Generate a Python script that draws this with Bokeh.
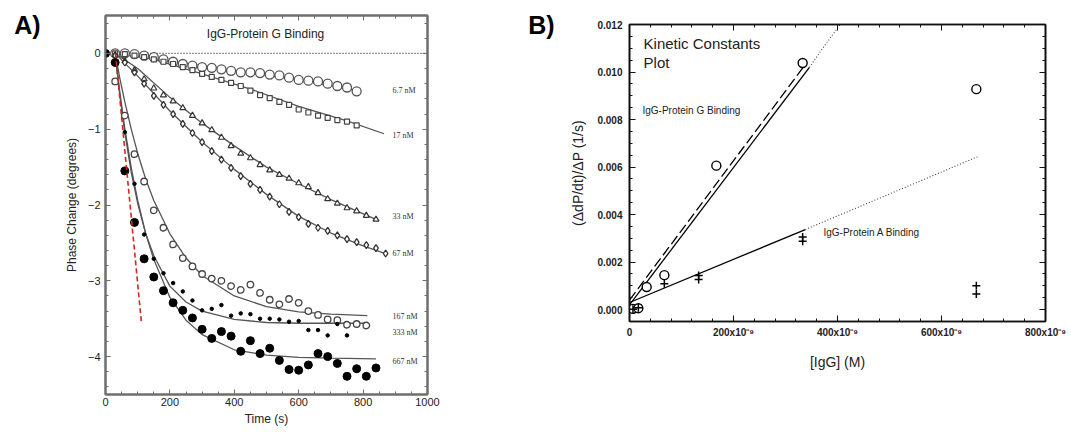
from bokeh.plotting import figure
from bokeh.models import (Range1d, LinearAxis, FixedTicker, CustomJSTickFormatter,
                          NumeralTickFormatter, CustomLabelingPolicy)
from bokeh.layouts import row
from bokeh.core.properties import value
from bokeh.embed import file_html
from bokeh.resources import INLINE

# ---------------- Panel A data (Time s, Phase change deg) ----------------
t_all = [0, 30, 60, 90, 120, 150, 180, 210, 240, 270, 300, 330, 360, 390, 420, 450,
         480, 510, 540, 570, 600, 630, 660, 690, 720, 750, 780, 810, 840, 870]

t_6p7 = t_all[1:27]
v_6p7 = [0, 0, -0.01, -0.03, -0.05, -0.08, -0.11, -0.14, -0.16, -0.18, -0.19, -0.21, -0.23,
         -0.25, -0.25, -0.26, -0.28, -0.29, -0.32, -0.35, -0.36, -0.37, -0.40, -0.43, -0.45, -0.50]
t_17 = t_all[1:27]
v_17 = [0, -0.01, -0.03, -0.05, -0.08, -0.11, -0.14, -0.18, -0.22, -0.27, -0.31, -0.35, -0.39,
        -0.43, -0.49, -0.55, -0.59, -0.64, -0.68, -0.74, -0.78, -0.82, -0.85, -0.88, -0.90, -0.95]
t_33 = t_all[1:29]
v_33 = [-0.02, -0.10, -0.22, -0.34, -0.46, -0.55, -0.63, -0.72, -0.82, -0.92, -1.01, -1.11,
        -1.22, -1.32, -1.38, -1.47, -1.54, -1.60, -1.65, -1.71, -1.76, -1.84, -1.92, -1.98,
        -2.04, -2.08, -2.14, -2.19]
t_67 = t_all[1:30]
v_67 = [-0.03, -0.12, -0.25, -0.40, -0.56, -0.68, -0.80, -0.93, -1.05, -1.17, -1.29, -1.40,
        -1.51, -1.62, -1.72, -1.80, -1.89, -1.99, -2.09, -2.16, -2.25, -2.30, -2.34, -2.40,
        -2.45, -2.49, -2.53, -2.57, -2.64]
t_167 = t_all[1:28]
v_167 = [-0.37, -0.82, -1.33, -1.69, -2.07, -2.30, -2.52, -2.70, -2.81, -2.91, -2.97, -3.00,
         -3.07, -3.12, -3.05, -3.16, -3.25, -3.31, -3.24, -3.29, -3.40, -3.45, -3.51, -3.52,
         -3.58, -3.57, -3.59]
t_333 = t_all[1:26]
v_333 = [-0.10, -1.04, -1.72, -2.39, -2.71, -2.90, -3.03, -3.14, -3.26, -3.39, -3.37, -3.32,
         -3.46, -3.43, -3.44, -3.50, -3.50, -3.51, -3.54, -3.53, -3.65, -3.65, -3.72, -3.57, -3.72]
t_667 = t_all[0:29]
v_667 = [0, -0.12, -1.55, -2.23, -2.71, -2.95, -3.13, -3.29, -3.39, -3.49, -3.64, -3.76, -3.67,
         -3.73, -3.93, -3.79, -3.96, -3.89, -4.05, -4.17, -4.18, -4.11, -3.96, -4.00, -4.09,
         -4.26, -4.16, -4.26, -4.15]

# fitted curves
ft_6p7 = [30, 200, 400, 600, 780]
fv_6p7 = [0, -0.10, -0.23, -0.35, -0.49]
ft_17 = [30, 150, 300, 450, 600, 750, 865]
fv_17 = [0, -0.08, -0.27, -0.47, -0.70, -0.89, -1.06]
ft_33 = [30, 100, 200, 300, 400, 500, 600, 700, 845]
fv_33 = [0, -0.20, -0.58, -0.92, -1.22, -1.50, -1.72, -1.93, -2.20]
ft_67 = [30, 100, 200, 300, 400, 500, 600, 700, 800, 870]
fv_67 = [0, -0.30, -0.76, -1.17, -1.53, -1.86, -2.15, -2.37, -2.54, -2.64]
ft_167 = [30, 45, 60, 80, 100, 125, 150, 200, 250, 300, 400, 500, 600, 700, 813]
fv_167 = [0, -0.34, -0.64, -1.00, -1.32, -1.66, -1.94, -2.38, -2.70, -2.93, -3.20, -3.34,
          -3.41, -3.44, -3.46]
ft_333 = [30, 45, 60, 80, 100, 125, 150, 200, 250, 300, 400, 500, 600, 813]
fv_333 = [0, -0.57, -1.05, -1.57, -1.98, -2.38, -2.67, -3.07, -3.28, -3.40, -3.51, -3.55,
          -3.56, -3.56]
ft_667 = [30, 45, 60, 80, 100, 125, 150, 200, 250, 300, 400, 500, 600, 700, 840]
fv_667 = [0, -0.53, -0.99, -1.51, -1.94, -2.38, -2.72, -3.22, -3.52, -3.71, -3.91, -3.98,
          -4.01, -4.02, -4.03]

red_t = [31, 112]
red_v = [0, -3.57]
zero_t = [0, 1000]
zero_v = [0, 0]

conc_labels = ["6.7 nM", "17  nM", "33  nM", "67 nM", "167 nM", "333 nM", "667 nM"]
conc_label_y = [-0.49, -1.08, -2.15, -2.64, -3.47, -3.68, -4.06]

# ---------------- Panel B data ([IgG] M, rate 1/s) ----------------
g_conc = [6.7e-9, 17e-9, 33e-9, 67e-9, 167e-9, 333e-9, 667e-9]
g_rate = [0.00003, 0.00006, 0.00095, 0.00145, 0.00606, 0.01038, 0.00928]
a_conc = [6.7e-9, 17e-9, 67e-9, 133e-9, 133e-9, 333e-9, 333e-9, 667e-9, 667e-9]
a_rate = [0.00002, 0.00008, 0.00109, 0.00144, 0.00127, 0.00306, 0.00288, 0.00100, 0.00066]

g_fit_x = [0, 346e-9]
g_fit_y = [0.0002, 0.0102]
g_dash_x = [0, 341e-9]
g_dash_y = [0.0004, 0.0104]
g_dot_x = [346e-9, 375e-9, 405e-9]
g_dot_y = [0.0102, 0.0111, 0.0120]
a_fit_x = [0, 338e-9]
a_fit_y = [0.0003, 0.00337]
a_dot_x = [338e-9, 669e-9]
a_dot_y = [0.00337, 0.00643]

SANS = "Liberation Sans"
SERIF = "Liberation Serif"
H = 428

NO_LABELS = CustomLabelingPolicy(code="""
const all = [];
for (const i of indices) { all.push(i); }
for (const i of all) { indices.unset(i); }
return indices;
""")


def style_axis(ax, color, width, major=5, minor=3, labels=True, fsize="10px", fstyle="normal"):
    ax.axis_line_color = color
    ax.axis_line_width = width
    ax.major_tick_line_color = color
    ax.minor_tick_line_color = color
    ax.major_tick_line_width = 1
    ax.minor_tick_line_width = 1
    ax.major_tick_in = major
    ax.major_tick_out = 0
    ax.minor_tick_in = minor
    ax.minor_tick_out = 0
    if labels:
        ax.major_label_text_font = SANS
        ax.major_label_text_font_size = fsize
        ax.major_label_text_font_style = fstyle
        ax.major_label_text_color = "#222222"
    else:
        ax.major_label_policy = NO_LABELS
        ax.major_label_text_font_size = "1px"
        ax.major_label_standoff = 0


def label_fig(width, text, x, y):
    f = figure(width=width, height=H, x_range=Range1d(0, width), y_range=Range1d(0, H),
               output_backend="svg", toolbar_location=None, frame_align=False,
               x_axis_type=None, y_axis_type=None, min_border=0)
    f.outline_line_color = None
    f.xgrid.visible = False
    f.ygrid.visible = False
    f.text(x=[x], y=[H - y], text=[text], text_font=value(SANS), text_font_size="25px",
           text_font_style="bold", text_align="center", text_baseline="middle", text_color="black")
    return f


# ======================= Panel A =======================
pA = figure(width=450, height=H, x_range=Range1d(0, 1000), y_range=Range1d(-4.5, 0.5),
            output_backend="svg", toolbar_location=None, frame_align=False,
            min_border_left=55, min_border_right=73, min_border_top=15, min_border_bottom=33)
pA.xgrid.visible = False
pA.ygrid.visible = False
pA.outline_line_color = "#6e6e6e"
pA.outline_line_width = 2

xt_A = FixedTicker(ticks=[0, 200, 400, 600, 800, 1000],
                   minor_ticks=[50, 100, 150, 250, 300, 350, 450, 500, 550, 650, 700, 750, 850, 900, 950])
yt_A = FixedTicker(ticks=[0, -1, -2, -3, -4],
                   minor_ticks=[0.4, 0.2, -0.2, -0.4, -0.6, -0.8, -1.2, -1.4, -1.6, -1.8, -2.2, -2.4,
                                -2.6, -2.8, -3.2, -3.4, -3.6, -3.8, -4.2, -4.4])
pA.xaxis.ticker = xt_A
pA.yaxis.ticker = yt_A
style_axis(pA.xaxis[0], "#6e6e6e", 2, fsize="11px")
style_axis(pA.yaxis[0], "#6e6e6e", 2, fsize="11px")
pA.xaxis.major_label_standoff = 3
pA.yaxis.major_label_standoff = 5
pA.xaxis.axis_label = "Time (s)"
pA.xaxis.axis_label_standoff = 3
pA.xaxis.axis_label_text_font = SANS
pA.xaxis.axis_label_text_font_style = "normal"
pA.xaxis.axis_label_text_font_size = "12px"
pA.xaxis.axis_label_text_color = "#222222"
pA.yaxis.axis_label = "Phase Change (degrees)"
pA.yaxis.axis_label_standoff = 6
pA.yaxis.axis_label_text_font = SANS
pA.yaxis.axis_label_text_font_style = "normal"
pA.yaxis.axis_label_text_font_size = "12px"
pA.yaxis.axis_label_text_color = "#222222"

topA = LinearAxis(ticker=xt_A)
style_axis(topA, "#6e6e6e", 2, labels=False)
pA.add_layout(topA, "above")
rightA = LinearAxis(ticker=yt_A)
style_axis(rightA, "#6e6e6e", 2, labels=False)
pA.add_layout(rightA, "right")

curve_col = "#555555"
pA.line(zero_t, zero_v, line_color="#333333", line_width=1.2, line_dash="1 2")
for ft, fv in [(ft_6p7, fv_6p7), (ft_17, fv_17), (ft_33, fv_33), (ft_67, fv_67),
               (ft_167, fv_167), (ft_333, fv_333), (ft_667, fv_667)]:
    pA.line(ft, fv, line_color=curve_col, line_width=1.3)

pA.scatter(t_6p7, v_6p7, marker="circle", size=9, fill_color="white", line_color="#555555", line_width=1.3)
pA.scatter(t_17, v_17, marker="square", size=5, fill_color="white", line_color="#444444", line_width=1.2)
pA.scatter(t_33, v_33, marker="triangle", size=6, fill_color="white", line_color="#333333", line_width=1.2)
pA.scatter(t_67, v_67, marker="diamond", size=7, fill_color="white", line_color="#333333", line_width=1.3)
pA.scatter(t_167, v_167, marker="circle", size=6.5, fill_color="white", line_color="#444444", line_width=1.3)
pA.scatter(t_333, v_333, marker="circle", size=3.5, fill_color="black", line_color="black")
pA.scatter(t_667, v_667, marker="circle", size=8, fill_color="black", line_color="black")

pA.line(red_t, red_v, line_color="#cc2a1e", line_width=1.6, line_dash="5 3")

pA.text(x=[497], y=[0.26], text=["IgG-Protein G Binding"], text_font=value(SANS),
        text_font_size="12px", text_align="center", text_baseline="middle", text_color="#222222")
pA.text(x=[891] * len(conc_labels), y=conc_label_y, text=conc_labels, text_font=value(SERIF),
        text_font_size="8px", text_align="left", text_baseline="middle", text_color="#333333")

# ======================= Panel B =======================
pB = figure(width=508, height=H, x_range=Range1d(0, 800e-9), y_range=Range1d(-0.0005, 0.012),
            output_backend="svg", toolbar_location=None, frame_align=False,
            min_border_left=69, min_border_right=23, min_border_top=24, min_border_bottom=107)
pB.xgrid.visible = False
pB.ygrid.visible = False
pB.outline_line_color = "#111111"
pB.outline_line_width = 1.6

xt_B = FixedTicker(ticks=[0, 200e-9, 400e-9, 600e-9, 800e-9],
                   minor_ticks=[k * 40e-9 for k in range(1, 20) if k % 5 != 0])
yt_B = FixedTicker(ticks=[0, 0.002, 0.004, 0.006, 0.008, 0.010, 0.012],
                   minor_ticks=[k * 0.0005 for k in range(-1, 24) if k % 4 != 0])
pB.xaxis.ticker = xt_B
pB.yaxis.ticker = yt_B
style_axis(pB.xaxis[0], "#111111", 1.6, major=6, minor=3, fsize="10px", fstyle="bold")
style_axis(pB.yaxis[0], "#111111", 1.6, major=6, minor=3, fsize="10px", fstyle="bold")
pB.xaxis.formatter = CustomJSTickFormatter(
    code="return tick == 0 ? '0' : Math.round(tick * 1e9) + 'x10\u207b\u2079';")
pB.yaxis.formatter = NumeralTickFormatter(format="0.000")
pB.xaxis.major_label_standoff = 5
pB.yaxis.major_label_standoff = 7
pB.xaxis.axis_label = "[IgG] (M)"
pB.xaxis.axis_label_standoff = 13
pB.xaxis.axis_label_text_font = SANS
pB.xaxis.axis_label_text_font_style = "normal"
pB.xaxis.axis_label_text_font_size = "14px"
pB.xaxis.axis_label_text_color = "#222222"
pB.yaxis.axis_label = "(\u0394dP/dt)/\u0394P (1/s)"
pB.yaxis.axis_label_standoff = 8
pB.yaxis.axis_label_text_font = SANS
pB.yaxis.axis_label_text_font_style = "normal"
pB.yaxis.axis_label_text_font_size = "14px"
pB.yaxis.axis_label_text_color = "#222222"

topB = LinearAxis(ticker=xt_B)
style_axis(topB, "#111111", 1.6, major=6, minor=3, labels=False)
pB.add_layout(topB, "above")
rightB = LinearAxis(ticker=yt_B)
style_axis(rightB, "#111111", 1.6, major=6, minor=3, labels=False)
pB.add_layout(rightB, "right")

pB.line(g_fit_x, g_fit_y, line_color="black", line_width=1.3)
pB.line(g_dash_x, g_dash_y, line_color="black", line_width=1.3, line_dash="10 4")
pB.line(g_dot_x, g_dot_y, line_color="#444444", line_width=1.1, line_dash="1 2")
pB.line(a_fit_x, a_fit_y, line_color="black", line_width=1.3)
pB.line(a_dot_x, a_dot_y, line_color="#444444", line_width=1.1, line_dash="1 2")

pB.scatter(g_conc, g_rate, marker="circle", size=9, fill_color="white", line_color="black", line_width=1.4)
pB.scatter(a_conc, a_rate, marker="cross", size=8, line_color="black", line_width=1.5)

pB.text(x=[27e-9, 27e-9], y=[0.0112, 0.0104], text=["Kinetic Constants", "Plot"],
        text_font=value(SANS), text_font_size="15px", text_align="left", text_baseline="middle",
        text_color="#222222")
pB.text(x=[25e-9], y=[0.00838], text=["IgG-Protein G Binding"], text_font=value(SANS),
        text_font_size="10px", text_align="left", text_baseline="middle", text_color="#222222")
pB.text(x=[373e-9], y=[0.00325], text=["IgG-Protein A Binding"], text_font=value(SANS),
        text_font_size="10px", text_align="left", text_baseline="middle", text_color="#222222")

figA_lbl = label_fig(50, "A)", 27, 24)
figB_lbl = label_fig(60, "B)", 41, 24)

layout = row(figA_lbl, pA, figB_lbl, pB)
open("out.html", "w").write(file_html(layout, INLINE))
